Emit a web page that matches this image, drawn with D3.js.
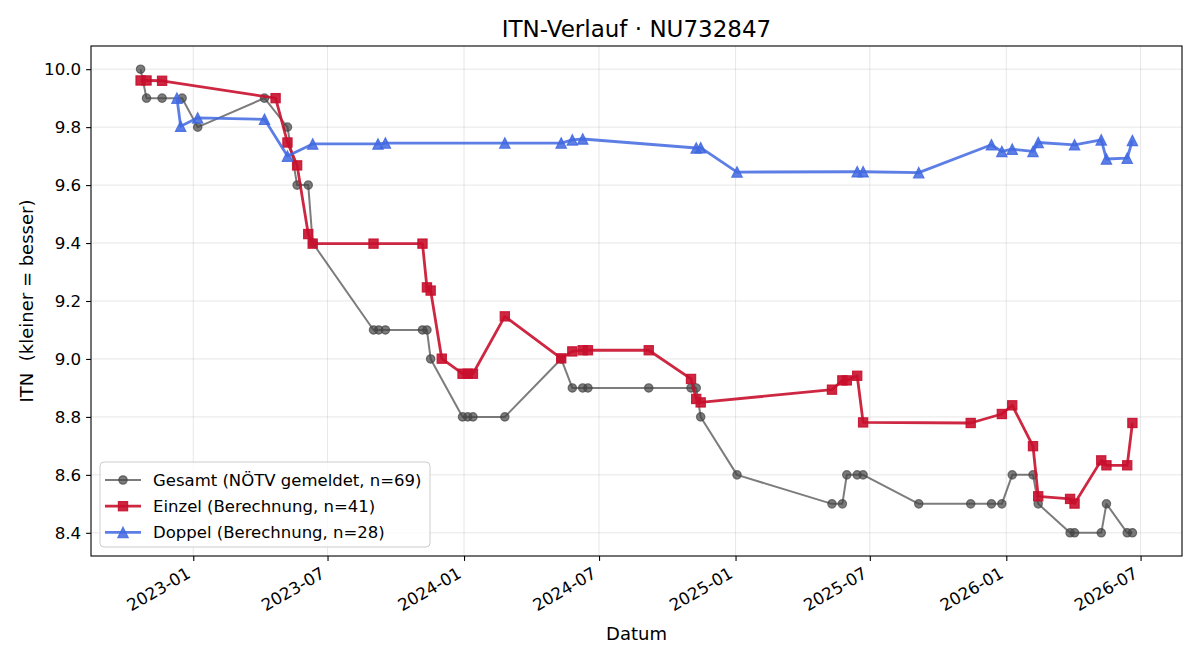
<!DOCTYPE html>
<html><head><meta charset="utf-8">
<script src="https://cdn.jsdelivr.net/npm/d3@7"></script>
<style>
body{margin:0;background:#fff;}
text{font-family:"DejaVu Sans",sans-serif;}
</style></head>
<body><svg id="c" width="1200" height="660"></svg>
<script>
const titleText = "ITN-Verlauf · NU732847";
const xLabel = "Datum";
const yLabel = "ITN  (kleiner = besser)";

const gesamtDates = ["2022-10-22","2022-10-30","2022-11-20","2022-12-17","2023-01-07","2023-04-07","2023-05-08","2023-05-21","2023-06-05","2023-06-11","2023-09-01","2023-09-08","2023-09-17","2023-11-06","2023-11-12","2023-11-17","2023-12-30","2024-01-06","2024-01-13","2024-02-25","2024-05-11","2024-05-26","2024-06-09","2024-06-16","2024-09-06","2024-11-02","2024-11-09","2024-11-15","2025-01-03","2025-05-11","2025-05-25","2025-05-31","2025-06-14","2025-06-22","2025-09-05","2025-11-14","2025-12-12","2025-12-26","2026-01-09","2026-02-06","2026-02-13","2026-03-28","2026-04-03","2026-05-09","2026-05-16","2026-06-13","2026-06-20"];
const gesamtValues = [10.0,9.9,9.9,9.9,9.8,9.9,9.8,9.6,9.6,9.4,9.1,9.1,9.1,9.1,9.1,9.0,8.8,8.8,8.8,8.8,9.0,8.9,8.9,8.9,8.9,8.9,8.9,8.8,8.6,8.5,8.5,8.6,8.6,8.6,8.5,8.5,8.5,8.5,8.6,8.6,8.5,8.4,8.4,8.4,8.5,8.4,8.4];

const einzelDates = ["2022-10-22","2022-10-30","2022-11-20","2023-04-22","2023-05-08","2023-05-21","2023-06-05","2023-06-11","2023-09-01","2023-11-06","2023-11-12","2023-11-17","2023-12-02","2023-12-30","2024-01-06","2024-01-13","2024-02-25","2024-05-11","2024-05-26","2024-06-09","2024-06-16","2024-09-06","2024-11-02","2024-11-09","2024-11-15","2025-05-11","2025-05-25","2025-05-31","2025-06-14","2025-06-22","2025-11-14","2025-12-26","2026-01-09","2026-02-06","2026-02-13","2026-03-28","2026-04-03","2026-05-09","2026-05-16","2026-06-13","2026-06-20"];
const einzelValues = [9.961,9.961,9.960,9.900,9.747,9.668,9.431,9.398,9.398,9.398,9.247,9.236,9.001,8.949,8.949,8.949,9.147,9.002,9.026,9.030,9.030,9.030,8.931,8.862,8.850,8.894,8.926,8.926,8.942,8.781,8.779,8.810,8.840,8.699,8.526,8.517,8.501,8.650,8.633,8.633,8.779];

const doppelDates = ["2022-12-10","2022-12-15","2023-01-07","2023-04-07","2023-05-08","2023-06-11","2023-09-07","2023-09-17","2024-02-25","2024-05-11","2024-05-26","2024-06-09","2024-11-09","2024-11-15","2025-01-03","2025-06-14","2025-06-22","2025-09-05","2025-12-12","2025-12-26","2026-01-09","2026-02-06","2026-02-13","2026-04-03","2026-05-09","2026-05-16","2026-06-13","2026-06-20"];
const doppelValues = [9.900,9.803,9.832,9.827,9.700,9.742,9.742,9.745,9.745,9.745,9.756,9.759,9.728,9.729,9.645,9.646,9.646,9.643,9.739,9.716,9.724,9.716,9.747,9.739,9.756,9.690,9.693,9.754];

const seriesNames = ["Gesamt (NÖTV gemeldet, n=69)","Einzel (Berechnung, n=41)","Doppel (Berechnung, n=28)"];
const xTickValues = ["2023-01-01","2023-07-01","2024-01-01","2024-07-01","2025-01-01","2025-07-01","2026-01-01","2026-07-01"];
const xTickLabels = ["2023-01","2023-07","2024-01","2024-07","2025-01","2025-07","2026-01","2026-07"];
const yTickValues = [8.4,8.6,8.8,9.0,9.2,9.4,9.6,9.8,10.0];

const parse = d3.utcParse("%Y-%m-%d");
const mk = (ds, vs) => ds.map((d,i)=>({date:parse(d), v:vs[i]}));
const gesamt = mk(gesamtDates, gesamtValues);
const einzel = mk(einzelDates, einzelValues);
const doppel = mk(doppelDates, doppelValues);

const L=91, R=1182, T=46, B=556;
const svg = d3.select("#c");

const all = gesamt.concat(einzel, doppel);
const [dMin, dMax] = d3.extent(all, d=>d.date);
const span = dMax - dMin;
const x = d3.scaleUtc().domain([new Date(+dMin - span*0.05), new Date(+dMax + span*0.05)]).range([L,R]);
const [vMin, vMax] = d3.extent(all, d=>d.v);
const vs = vMax - vMin;
const y = d3.scaleLinear().domain([vMin - vs*0.05, vMax + vs*0.05]).range([B,T]);

const TICK_FS = 16.7;
// grid
const g = svg.append("g");
g.selectAll(".gx").data(xTickValues).join("line")
  .attr("x1", d=>x(parse(d))).attr("x2", d=>x(parse(d))).attr("y1",T).attr("y2",B)
  .attr("stroke","#b0b0b0").attr("stroke-opacity",0.3).attr("stroke-width",1);
g.selectAll(".gy").data(yTickValues).join("line")
  .attr("y1", d=>y(d)).attr("y2", d=>y(d)).attr("x1",L).attr("x2",R)
  .attr("stroke","#b0b0b0").attr("stroke-opacity",0.3).attr("stroke-width",1);

// axes
const xAxis = d3.axisBottom(x).tickValues(xTickValues.map(parse)).tickFormat((d,i)=>xTickLabels[i]).tickSizeOuter(0).tickSize(4.9).tickPadding(4.9);
const xg = svg.append("g").attr("transform",`translate(0,${B})`).call(xAxis);
xg.select(".domain").remove();
xg.selectAll("line").attr("stroke","#000").attr("stroke-width",1.1);
xg.selectAll("text").attr("font-size",TICK_FS).attr("fill","#000").attr("font-family","DejaVu Sans")
  .attr("text-anchor","end").attr("dy",null).attr("y",null)
  .attr("transform","translate(-2,20.7) rotate(-30)");

const yAxis = d3.axisLeft(y).tickValues(yTickValues).tickFormat(d3.format(".1f")).tickSizeOuter(0).tickSize(4.9).tickPadding(4.9);
const yg = svg.append("g").attr("transform",`translate(${L},0)`).call(yAxis);
yg.select(".domain").remove();
yg.selectAll("line").attr("stroke","#000").attr("stroke-width",1.1);
yg.selectAll("text").attr("font-size",TICK_FS).attr("fill","#000").attr("font-family","DejaVu Sans");

svg.append("rect").attr("x",L).attr("y",T).attr("width",R-L).attr("height",B-T)
  .attr("fill","none").attr("stroke","#000").attr("stroke-width",1.1);

const line = d3.line().x(d=>x(d.date)).y(d=>y(d.v));
const styles = [
  {data:gesamt, color:"#444444", op:0.7, lw:2, shape:"circle"},
  {data:einzel, color:"#c8102e", op:0.9, lw:2.8, shape:"square"},
  {data:doppel, color:"#4169e1", op:0.85, lw:2.8, shape:"triangle"}
];
// face and edge drawn with their own alpha, like matplotlib
function marker(sel, shape, color, op){
  let m;
  if(shape==="circle"){
    m = sel.append("circle").attr("r",4.2);
  } else if(shape==="square"){
    m = sel.append("rect").attr("x",-4.6).attr("y",-4.6).attr("width",9.2).attr("height",9.2);
  } else {
    m = sel.append("path").attr("d","M0,-5.2L5.2,5.2L-5.2,5.2Z");
  }
  m.attr("fill",color).attr("fill-opacity",op).attr("stroke",color).attr("stroke-opacity",op).attr("stroke-width",1.2);
}
const plot = svg.append("g");
styles.forEach(s=>{
  const gg = plot.append("g");
  gg.append("path").datum(s.data).attr("d",line).attr("fill","none")
    .attr("stroke",s.color).attr("stroke-opacity",s.op).attr("stroke-width",s.lw).attr("stroke-linejoin","round");
  s.data.forEach(d=>{
    const m = gg.append("g").attr("transform",`translate(${x(d.date)},${y(d.v)})`);
    marker(m, s.shape, s.color, s.op);
  });
});

// title & labels
svg.append("text").attr("x",(L+R)/2).attr("y",36.5).attr("text-anchor","middle").attr("font-size",23).attr("fill","#000").text(titleText);
svg.append("text").attr("x",(L+R)/2).attr("y",639.5).attr("text-anchor","middle").attr("font-size",18).attr("fill","#000").text(xLabel);
svg.append("text").attr("transform",`translate(32.5,${(T+B)/2}) rotate(-90)`).attr("text-anchor","middle").attr("font-size",18).attr("fill","#000").style("white-space","pre").text(yLabel);

// legend
const lg = svg.append("g");
lg.append("rect").attr("x",100).attr("y",462).attr("width",330).attr("height",85).attr("rx",4)
  .attr("fill","#fff").attr("fill-opacity",0.8).attr("stroke","#cccccc").attr("stroke-width",1);
styles.forEach((s,i)=>{
  const cy = 480 + i*26.2;
  lg.append("line").attr("x1",105).attr("x2",141).attr("y1",cy).attr("y2",cy)
    .attr("stroke",s.color).attr("stroke-opacity",s.op).attr("stroke-width",s.lw);
  const m = lg.append("g").attr("transform",`translate(123,${cy})`);
  marker(m, s.shape, s.color, s.op);
  lg.append("text").attr("x",153).attr("y",cy+6).attr("font-size",16.5).attr("fill","#000").text(seriesNames[i]);
});
</script></body></html>
